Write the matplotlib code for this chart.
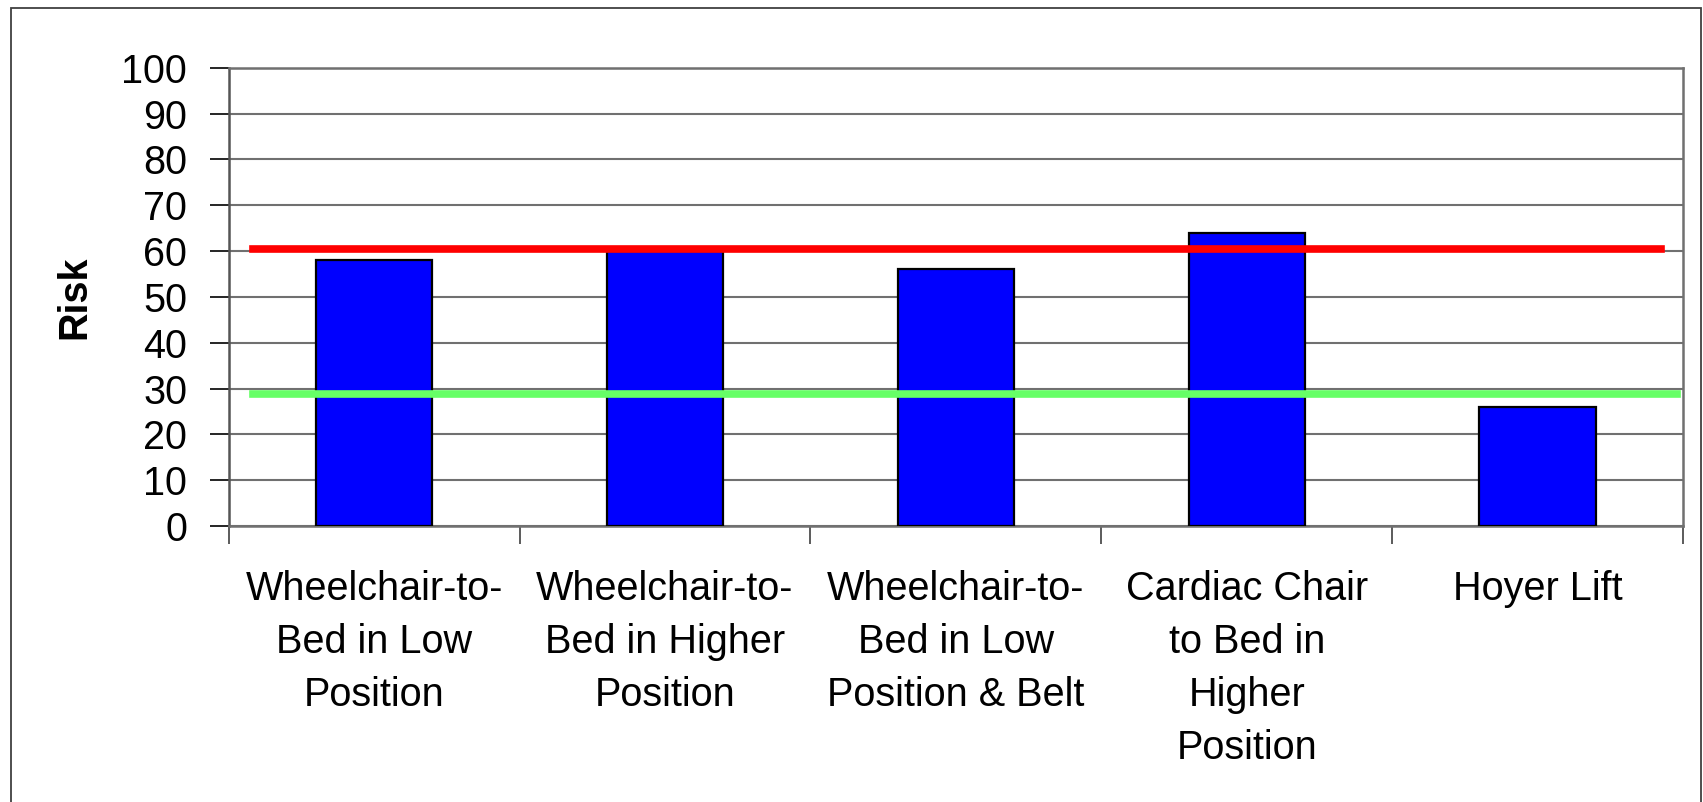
import matplotlib.pyplot as plt
from matplotlib.patches import Rectangle

plt.rcParams['font.family'] = ['Liberation Sans', 'DejaVu Sans']

# Data
categories = [
    'Wheelchair-to-\nBed in Low\nPosition',
    'Wheelchair-to-\nBed in Higher\nPosition',
    'Wheelchair-to-\nBed in Low\nPosition & Belt',
    'Cardiac Chair\nto Bed in\nHigher\nPosition',
    'Hoyer Lift',
]
risk = [58, 60, 56, 64, 26]
high_limit = 60.4
low_limit = 28.9
y_ticks = list(range(0, 101, 10))

W, H, DPI = 1703, 802, 100
fig = plt.figure(figsize=(W / DPI, H / DPI), dpi=DPI)

# outer chart border
fig.patches.append(Rectangle((10.5 / W, -0.01), 1690.5 / W, (H - 7.5) / H + 0.01,
                             transform=fig.transFigure, fill=False,
                             edgecolor='#404040', linewidth=1.3))

ax = fig.add_axes([228.7 / W, 1 - 526 / H, (1683 - 228.7) / W, (526 - 67.7) / H])

x = list(range(len(categories)))
ax.bar(x, risk, width=0.4, color='#0000FF', edgecolor='black', linewidth=1.6, zorder=3)

# limit lines
ax.axhline(high_limit, xmin=0.0167, xmax=0.985, color='#FF0000', linewidth=5.5, zorder=4)
ax.axhline(low_limit, xmin=0.0167, xmax=0.996, color='#66FF66', linewidth=5.5, zorder=4)

ax.set_xlim(-0.5, len(categories) - 0.5)
ax.set_ylim(0, 100)
ax.set_yticks(y_ticks)
ax.set_yticklabels([str(v) for v in y_ticks], fontsize=28.5)
ax.yaxis.grid(True, color='#707070', linewidth=1.5, zorder=0)
ax.set_axisbelow(True)

# category labels sit between boundary ticks
ax.set_xticks(x)
ax.set_xticklabels(categories, fontsize=28.5, linespacing=1.5, va='top')
ax.tick_params(axis='x', length=0, pad=32)
ax.set_xticks([i - 0.5 for i in range(len(categories) + 1)], minor=True)
ax.tick_params(axis='x', which='minor', length=13, width=1.2, color='#404040')
ax.tick_params(axis='y', length=14, width=1.2, color='black', pad=16)

for side in ['left', 'right', 'top', 'bottom']:
    ax.spines[side].set_color('#707070')
    ax.spines[side].set_linewidth(1.8)
ax.spines['left'].set_color('#555555')

ax.set_ylabel('Risk', fontsize=28.5, fontweight='bold', labelpad=20)

fig.savefig('out.png', dpi=DPI)
